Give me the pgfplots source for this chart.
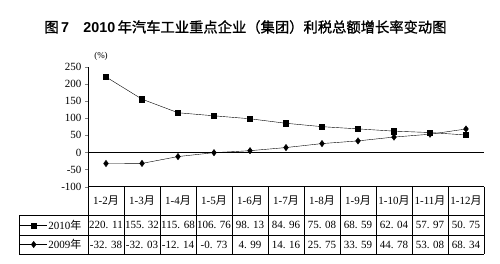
\documentclass[border=0pt]{standalone}
\usepackage{pgfplots}
\pgfplotsset{compat=1.18}
\usepackage{fontspec}
\setmainfont{Liberation Serif}
\newfontfamily\cjk{Noto Sans CJK SC}
\newfontfamily\cjkb{Noto Sans CJK SC}[FakeBold=1.0]
\newfontfamily\hei{Liberation Sans}
\begin{document}
\begin{tikzpicture}[x=1pt,y=1pt]
\path[use as bounding box] (0,0) rectangle (500,264);
\begin{axis}[at={(88pt,77.3pt)}, anchor=south west, scale only axis,
  width=396pt, height=120pt,
  xmin=-0.5, xmax=10.5, ymin=-100, ymax=250,
  axis x line*=bottom, axis y line*=left,
  xtick=\empty, ytick={-100,-50,...,250},
  tick align=outside, major tick length=3pt,
  tick label style={font=\fontsize{11}{11}\selectfont},
  /pgf/number format/assume math mode=true,
  clip=false,
  legend style={at={(axis description cs:-0.1717,-0.2417)}, anchor=north west,
    draw=none, fill=none, inner sep=0pt, outer sep=0pt, row sep=0pt, column sep=1pt,
    cells={anchor=west}, nodes={inner sep=0pt, minimum height=19.2pt},
    font=\fontsize{11}{11}\selectfont},
  legend image code/.code={\draw[mark repeat=2,mark phase=2,#1] plot coordinates {(0pt,0pt) (13.5pt,0pt) (27pt,0pt)};},
]
\addplot[black, mark=square*, mark size=2.6pt, mark options={solid}] coordinates {
(0,220.11) (1,155.32) (2,115.68) (3,106.76) (4,98.13) (5,84.96) (6,75.08) (7,68.59) (8,62.04) (9,57.97) (10,50.75)};
\addlegendentry{2010{\cjk 年}}
\addplot[black, mark=diamond*, mark size=3.2pt, mark options={solid}] coordinates {
(0,-32.38) (1,-32.03) (2,-12.14) (3,-0.73) (4,4.99) (5,14.16) (6,25.75) (7,33.59) (8,44.78) (9,53.08) (10,68.34)};
\addlegendentry{2009{\cjk 年}}
\draw[black, line width=0.6pt] (axis cs:-0.5,0) -- (axis cs:10.5,0);
\end{axis}
% title
\node[font=\fontsize{14.3}{14.3}\selectfont] at (245.5,237)
  {{\cjkb 图}\,{\hei\bfseries 7}\quad{\hei\bfseries 2010}\,{\cjkb 年汽车工业重点企业（集团）利税总额增长率变动图}};
\node[font=\fontsize{9}{9}\selectfont] at (101,208) {(\%)};
% table
\draw (88,77.3) -- (484,77.3);
\draw (19,48.3) -- (484,48.3);
\draw (19,29) -- (484,29);
\draw (19,10) -- (484,10);
\draw (19,48.3) -- (19,10);
\foreach \k in {0,...,11} { \draw (88+36*\k,77.3) -- (88+36*\k,10); }
\foreach \lab [count=\i from 0] in {1-2,1-3,1-4,1-5,1-6,1-7,1-8,1-9,1-10,1-11,1-12}
  { \node[font=\fontsize{11}{11}\selectfont] at (106+36*\i,63) {\lab{\cjk 月}}; }
\foreach \v [count=\i from 0] in {220. 11,155. 32,115. 68,106. 76,98. 13,84. 96,75. 08,68. 59,62. 04,57. 97,50. 75}
  { \node[font=\fontsize{11}{11}\selectfont] at (106+36*\i,38.6) {\v}; }
\foreach \v [count=\i from 0] in {-32. 38,-32. 03,-12. 14,-0. 73,4. 99,14. 16,25. 75,33. 59,44. 78,53. 08,68. 34}
  { \node[font=\fontsize{11}{11}\selectfont] at (106+36*\i,19.5) {\v}; }
\end{tikzpicture}
\end{document}
